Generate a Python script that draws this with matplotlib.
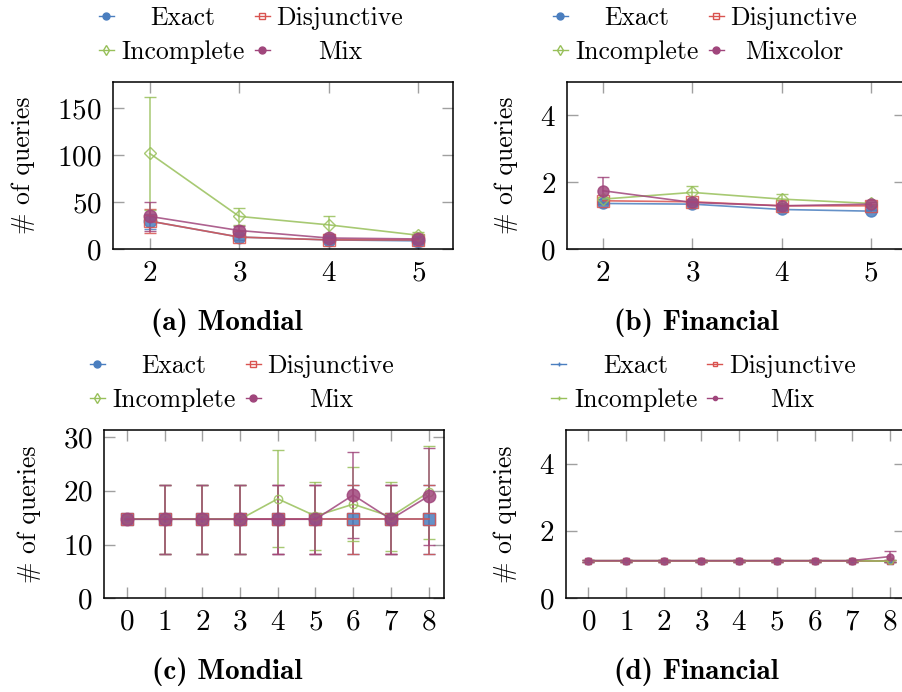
import matplotlib
matplotlib.use("Agg")
import matplotlib.pyplot as plt

plt.rcParams['font.family'] = 'cmr10'
plt.rcParams['mathtext.fontset'] = 'cm'
plt.rcParams['axes.formatter.use_mathtext'] = True

# ---- data ----
labels = ["Exact", "Disjunctive", "Incomplete", "Mix"]
labels_b = ["Exact", "Disjunctive", "Incomplete", "Mixcolor"]

x_ab = [2, 3, 4, 5]
x_cd = [0, 1, 2, 3, 4, 5, 6, 7, 8]

# (a) Mondial
a_exact = [30, 13, 10, 9]
a_exact_err = [8, 3, 2, 2]
a_disj = [30, 13, 10, 10]
a_disj_err = [13, 3, 2, 2]
a_incomp = [102, 35, 26, 15]
a_incomp_err = [60, 9, 9.5, 3]
a_mix = [35, 20, 12, 11]
a_mix_err = [15, 5, 2, 2]

# (b) Financial
b_exact = [1.37, 1.35, 1.19, 1.14]
b_exact_err = [0.03, 0.03, 0.03, 0.03]
b_disj = [1.45, 1.42, 1.30, 1.30]
b_disj_err = [0.05, 0.05, 0.05, 0.05]
b_incomp = [1.50, 1.70, 1.50, 1.37]
b_incomp_err = [0.05, 0.19, 0.16, 0.05]
b_mix = [1.75, 1.40, 1.30, 1.35]
b_mix_err = [0.40, 0.05, 0.05, 0.05]

# (c) Mondial
c_exact = [14.7, 14.7, 14.7, 14.7, 14.7, 14.7, 14.7, 14.7, 14.7]
c_exact_err = [0, 6.4, 6.4, 6.4, 6.4, 6.4, 6.4, 6.4, 6.4]
c_disj = [14.7, 14.7, 14.7, 14.7, 14.7, 14.7, 14.7, 14.7, 14.7]
c_disj_err = [0, 6.4, 6.4, 6.4, 6.4, 6.4, 6.4, 6.4, 6.4]
c_incomp = [14.7, 14.7, 14.7, 14.7, 18.5, 15.3, 17.5, 15.2, 19.7]
c_incomp_err = [0, 6.4, 6.4, 6.4, 9.0, 6.3, 6.9, 6.4, 8.7]
c_mix = [14.7, 14.7, 14.7, 14.7, 14.7, 14.7, 19.2, 14.7, 19.0]
c_mix_err = [0, 6.4, 6.4, 6.4, 6.4, 6.4, 8.0, 6.4, 9.0]

# (d) Financial
d_exact = [1.12, 1.12, 1.12, 1.12, 1.12, 1.12, 1.12, 1.12, 1.12]
d_disj = [1.12, 1.12, 1.12, 1.12, 1.12, 1.12, 1.12, 1.12, 1.12]
d_incomp = [1.12, 1.12, 1.12, 1.12, 1.12, 1.12, 1.12, 1.12, 1.10]
d_mix = [1.12, 1.12, 1.12, 1.12, 1.12, 1.12, 1.12, 1.12, 1.24]
d_err = [0.03, 0.03, 0.03, 0.03, 0.03, 0.03, 0.03, 0.03, 0.03]
d_mix_err = [0.03, 0.03, 0.03, 0.03, 0.03, 0.03, 0.03, 0.03, 0.17]

BLUE = "#4a7ebf"
RED = "#d95350"
GREEN = "#98c05a"
PURPLE = "#a0467c"
colors = [BLUE, RED, GREEN, PURPLE]

W, H = 902, 692
fig = plt.figure(figsize=(W / 100, H / 100), dpi=100)


def make_axes(left, right, top, bottom):
    return fig.add_axes([left / W, 1 - bottom / H, (right - left) / W, (bottom - top) / H])


def style_axes(ax, xticks, yticks, xlim, ylim):
    ax.set_xlim(*xlim)
    ax.set_ylim(*ylim)
    ax.set_xticks(xticks)
    ax.set_yticks(yticks)
    ax.tick_params(direction='in', length=8, width=1.0, color='#a0a0a0',
                   top=True, right=True, labelsize=21, pad=8)
    for sp in ax.spines.values():
        sp.set_linewidth(1.1)
    ax.set_ylabel("# of queries", fontsize=18.5, labelpad=16)


def draw_series(ax, x, ys, errs, markers, sizes, fills):
    for y, e, c, m, s, f in zip(ys, errs, colors, markers, sizes, fills):
        ax.errorbar(x, y, yerr=e, color=c, marker=m, markersize=s,
                    markerfacecolor=c if f else 'none', markeredgecolor=c,
                    markeredgewidth=1.0, linewidth=1.2, elinewidth=1.1,
                    capsize=4, capthick=1.1, alpha=0.85, clip_on=False)


def draw_legend(ax, names, markers, fills, ms):
    # pgfplots style legend: 2 columns, centred text, placed above the axes
    bb = ax.get_position()
    wpx, hpx = bb.width * W, bb.height * H
    handle_x = [-7, 149]
    text_x = [70, 227]
    rows = [66, 32]
    for i, name in enumerate(names):
        col, row = i % 2, i // 2
        hx = handle_x[col] / wpx
        hw = 7.5 / wpx
        yy = 1 + rows[row] / hpx
        c = colors[i]
        ax.plot([hx - hw, hx, hx + hw], [yy, yy, yy], color=c, linewidth=1.0,
                marker=markers[i], markevery=[1], markersize=ms,
                markerfacecolor=c if fills[i] else 'none', markeredgecolor=c,
                markeredgewidth=1.0, transform=ax.transAxes, clip_on=False)
        ax.text(text_x[col] / wpx, yy, name, transform=ax.transAxes,
                ha='center', va='center_baseline', fontsize=18.5)


# (a)
ax_a = make_axes(113, 453, 82, 249.3)
draw_series(ax_a, x_ab, [a_exact, a_disj, a_incomp, a_mix],
            [a_exact_err, a_disj_err, a_incomp_err, a_mix_err],
            ['o', 's', 'D', 'o'], [9, 9, 6, 9], [True, False, False, True])
style_axes(ax_a, x_ab, [0, 50, 100, 150], (1.589, 5.39), (0, 178))
draw_legend(ax_a, labels, ['o', 's', 'd', 'o'], [True, False, False, True], 5)

# (b)
ax_b = make_axes(567, 905, 82, 249.3)
draw_series(ax_b, x_ab, [b_exact, b_disj, b_incomp, b_mix],
            [b_exact_err, b_disj_err, b_incomp_err, b_mix_err],
            ['o', 's', 'D', 'o'], [8, 8, 6, 8], [True, False, False, True])
style_axes(ax_b, x_ab, [0, 2, 4], (1.597, 5.38), (0, 5))
draw_legend(ax_b, labels_b, ['o', 's', 'd', 'o'], [True, False, False, True], 5)

# (c)
ax_c = make_axes(104, 444, 430, 598.3)
draw_series(ax_c, x_cd, [c_exact, c_disj, c_incomp, c_mix],
            [c_exact_err, c_disj_err, c_incomp_err, c_mix_err],
            ['s', 's', 'o', 'o'], [8, 9, 6, 9], [True, False, False, True])
style_axes(ax_c, x_cd, [0, 10, 20, 30], (-0.61, 8.41), (0, 31.3))
draw_legend(ax_c, labels, ['o', 's', 'd', 'o'], [True, False, False, True], 5)

# (d)
ax_d = make_axes(565.7, 905, 430, 598.3)
draw_series(ax_d, x_cd, [d_exact, d_disj, d_incomp, d_mix],
            [d_err, d_err, d_err, d_mix_err],
            ['s', 's', 'o', 'o'], [5, 5, 4, 5], [True, False, False, True])
style_axes(ax_d, x_cd, [0, 2, 4], (-0.60, 8.40), (0, 5))
draw_legend(ax_d, labels, ['+', 's', '+', 'o'], [True, False, True, True], 3)

# sub-captions
caps = [("(a)", "Mondial", 227, 323), ("(b)", "Financial", 696, 323),
        ("(c)", "Mondial", 227, 672), ("(d)", "Financial", 696, 672)]
for tag, name, cx, cy in caps:
    fig.text(cx / W, 1 - cy / H, tag + " " + name, ha='center', va='center',
             fontsize=21, family='cmb10')

fig.savefig("out.png", dpi=100)
